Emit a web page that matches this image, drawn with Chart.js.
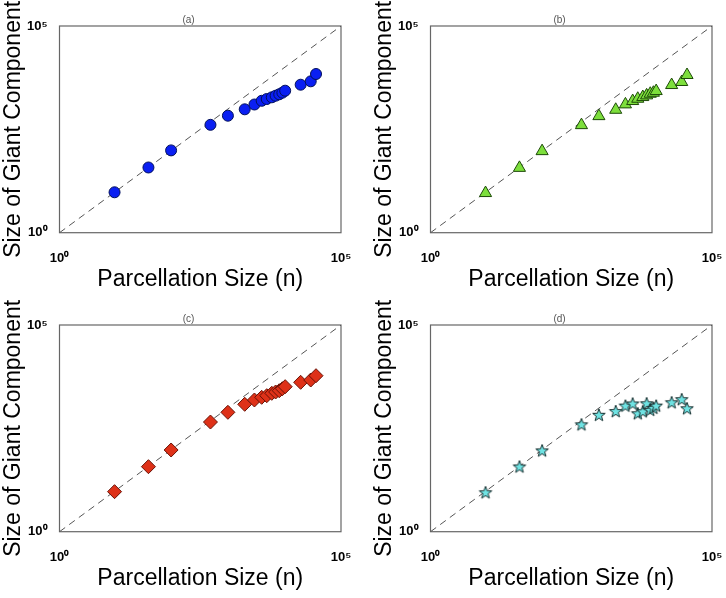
<!DOCTYPE html>
<html>
<head>
<meta charset="utf-8">
<script src="https://cdn.jsdelivr.net/npm/chart.js@4.4.0/dist/chart.umd.min.js"></script>
<style>
  html, body { margin: 0; padding: 0; background: #fff; overflow: hidden; }
  #wrap { position: relative; width: 726px; height: 598px; overflow: hidden; }
  .panel { position: absolute; width: 363px; height: 299px; }
</style>
</head>
<body>
<div id="wrap">
  <div class="panel" style="left:0;top:0"><canvas id="pa" width="363" height="299"></canvas></div>
  <div class="panel" style="left:371px;top:0"><canvas id="pb" width="363" height="299"></canvas></div>
  <div class="panel" style="left:0;top:299px"><canvas id="pc" width="363" height="299"></canvas></div>
  <div class="panel" style="left:371px;top:299px"><canvas id="pd" width="363" height="299"></canvas></div>
</div>
<script>
// parcellation sizes (shared x values)
const parcellationSizes = [9.5, 38, 96, 480, 980, 1950, 2900, 3900, 4800, 5900, 6900, 8000, 9100, 10200, 19200, 29000, 36000];

// size of giant component per panel
const giantA = [9.5, 37.8, 98, 407, 676, 966, 1262, 1552, 1714, 1884, 2060, 2228, 2437, 2722, 3800, 4590, 6900];
const giantB = [9.1, 37, 94, 400, 660, 940, 1270, 1530, 1740, 1910, 2100, 2300, 2430, 2670, 3730, 4420, 6530];
const giantC = [9.3, 37.4, 94.7, 450, 773, 1207, 1535, 1783, 1950, 2228, 2395, 2574, 2877, 3220, 4110, 4670, 5940];
const giantD = [9.0, 37.8, 92.5, 395, 673, 827, 1125, 1265, 731, 818, 1279, 889, 995, 1125, 1352, 1600, 967];

const diagonal = [1, 100000];
const axisTicks = [1, 100000];
const tickLabels = ['10\u2070', '10\u2075'];

const FONT = '"Liberation Sans", Arial, Helvetica, sans-serif';

function starImage(fill, edge) {
  const c = document.createElement('canvas');
  c.width = 16; c.height = 16;
  const g = c.getContext('2d');
  g.beginPath();
  for (let i = 0; i < 10; i++) {
    const r = i % 2 ? 2.7 : 6.6;
    const a = -Math.PI / 2 + i * Math.PI / 5;
    const px = 8 + r * Math.cos(a), py = 8.6 + r * Math.sin(a);
    if (i) g.lineTo(px, py); else g.moveTo(px, py);
  }
  g.closePath();
  g.fillStyle = fill;
  g.fill();
  g.strokeStyle = edge;
  g.lineWidth = 1;
  g.stroke();
  return c;
}

// box around the plot area and the small (a)/(b) label above it
const frame = {
  id: 'frame',
  beforeDatasetsDraw(chart) {
    const { ctx, chartArea: a } = chart;
    ctx.save();
    ctx.strokeStyle = '#666';
    ctx.lineWidth = 1.2;
    ctx.strokeRect(a.left, a.top, a.right - a.left, a.bottom - a.top);
    ctx.restore();
  },
  afterDraw(chart, args, opts) {
    const { ctx, chartArea: a } = chart;
    ctx.save();
    ctx.fillStyle = '#555';
    ctx.font = '10px ' + FONT;
    ctx.textAlign = 'center';
    ctx.textBaseline = 'middle';
    ctx.fillText(opts.text, a.left + 129, a.top - 5.5);
    ctx.restore();
  }
};

function makePanel(id, label, values, style) {
  const points = parcellationSizes.map((n, i) => ({ x: n, y: values[i] }));
  return new Chart(document.getElementById(id), {
    type: 'scatter',
    data: {
      datasets: [{
        data: points,
        pointStyle: style.shape,
        pointRadius: style.radius,
        pointHoverRadius: style.radius,
        backgroundColor: style.fill,
        borderColor: style.edge,
        borderWidth: 1,
        order: 0,
      }, {
        data: diagonal.map(v => ({ x: v, y: v })),
        showLine: true,
        borderColor: '#555',
        borderWidth: 1,
        borderDash: [7, 5],
        pointRadius: 0,
        order: 1,
      }]
    },
    options: {
      responsive: false,
      animation: false,
      events: [],
      layout: { padding: { top: 26, right: 22, left: 0, bottom: 0 } },
      plugins: {
        legend: { display: false },
        tooltip: { enabled: false },
        frame: { text: label },
      },
      scales: {
        x: {
          type: 'logarithmic', min: 1, max: 100000,
          grid: { display: false }, border: { display: false },
          afterBuildTicks: s => { s.ticks = axisTicks.map(v => ({ value: v })); },
          afterFit: s => { s.height = 66.3; },
          ticks: {
            callback: (v, i) => tickLabels[i],
            padding: 10, maxRotation: 0, autoSkip: false, color: '#000',
            font: { family: FONT, size: 13, weight: 'bold' },
          },
          title: {
            display: true, text: 'Parcellation Size (n)', color: '#000',
            font: { family: FONT, size: 23 }, padding: { top: 0, bottom: 6 },
          },
        },
        y: {
          type: 'logarithmic', min: 1, max: 100000,
          grid: { display: false }, border: { display: false },
          afterBuildTicks: s => { s.ticks = axisTicks.map(v => ({ value: v })); },
          afterFit: s => { s.width = 59.5; },
          ticks: {
            callback: (v, i) => tickLabels[i],
            padding: 4, autoSkip: false, color: '#000',
            font: { family: FONT, size: 13, weight: 'bold' },
          },
          title: {
            display: true, text: 'Size of Giant Component', color: '#000',
            font: { family: FONT, size: 23 }, padding: 0,
          },
        },
      },
    },
    plugins: [frame],
  });
}

makePanel('pa', '(a)', giantA, { shape: 'circle', radius: 5.5, fill: '#0a1ff2', edge: '#02105a' });
makePanel('pb', '(b)', giantB, { shape: 'triangle', radius: 7, fill: '#7ddf3c', edge: '#1d4a08' });
makePanel('pc', '(c)', giantC, { shape: 'rectRot', radius: 7, fill: '#de3118', edge: '#6a1206' });
makePanel('pd', '(d)', giantD, { shape: starImage('#6fe3e3', '#163030'), radius: 7, fill: '#6fe3e3', edge: '#163030' });
</script>
</body>
</html>
